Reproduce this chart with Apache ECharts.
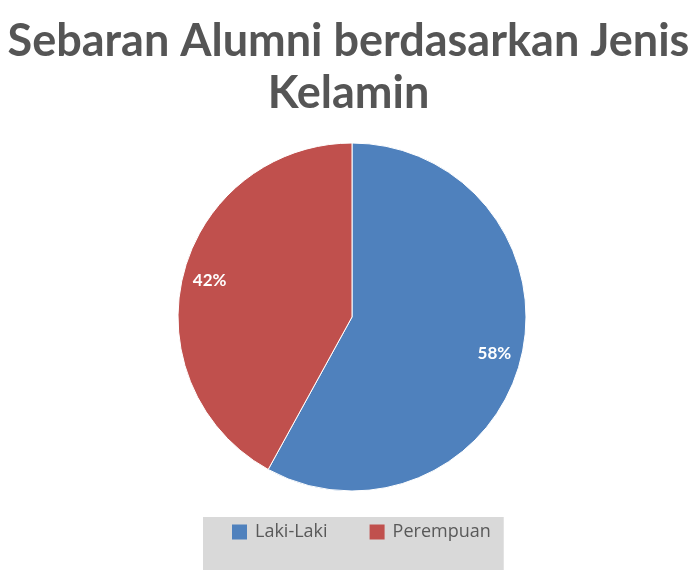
<!DOCTYPE html>
<html>
<head>
<meta charset="utf-8">
<script src="https://cdn.jsdelivr.net/npm/echarts@6/dist/echarts.min.js"></script>
<style>
html,body{margin:0;padding:0;background:#fff;}
#chart{width:697px;height:570px;}
</style>
</head>
<body>
<div id="chart"></div>
<script>
const titleText = 'Sebaran Alumni berdasarkan Jenis\nKelamin';
const categories = ['Laki-Laki', 'Perempuan'];
const values = [58, 42];
const colors = ['#4F81BD', '#C0504D'];

const data = categories.map((c, i) => ({ name: c, value: values[i], itemStyle: { color: colors[i] } }));

const chart = echarts.init(document.getElementById('chart'));
chart.setOption({
  animation: false,
  title: {
    text: titleText,
    left: 'center',
    top: 10,
    textStyle: {
      fontFamily: 'Lato, "Open Sans", sans-serif',
      fontWeight: 'bold',
      fontSize: 45,
      lineHeight: 52,
      color: '#555555'
    }
  },
  legend: {
    data: categories,
    left: 203,
    top: 517,
    orient: 'horizontal',
    backgroundColor: '#d9d9d9',
    padding: [6, 13, 40, 29],
    icon: 'rect',
    itemWidth: 15,
    itemHeight: 15,
    itemGap: 42,
    itemStyle: { borderWidth: 0 },
    textStyle: { color: '#595959', fontSize: 18, lineHeight: 18, padding: [0, 0, 0, 3], fontFamily: '"Open Sans", sans-serif' }
  },
  series: [
    {
      type: 'pie',
      center: [352, 317],
      radius: 174,
      startAngle: 90,
      clockwise: true,
      label: { show: false },
      labelLine: { show: false },
      itemStyle: { borderColor: '#ffffff', borderWidth: 1 },
      emphasis: { disabled: true },
      data: data
    },
    {
      type: 'pie',
      center: [352, 317],
      radius: [114, 174],
      startAngle: 90,
      clockwise: true,
      silent: true,
      legendHoverLink: false,
      itemStyle: { color: 'transparent', borderWidth: 0 },
      label: {
        show: true,
        position: 'inside',
        formatter: '{c}%',
        color: '#ffffff',
        fontWeight: 'bold',
        fontSize: 17,
        fontFamily: 'Lato, sans-serif'
      },
      labelLine: { show: false },
      emphasis: { disabled: true },
      data: categories.map((c, i) => ({ name: c + ' ', value: values[i] }))
    }
  ]
});
</script>
</body>
</html>
